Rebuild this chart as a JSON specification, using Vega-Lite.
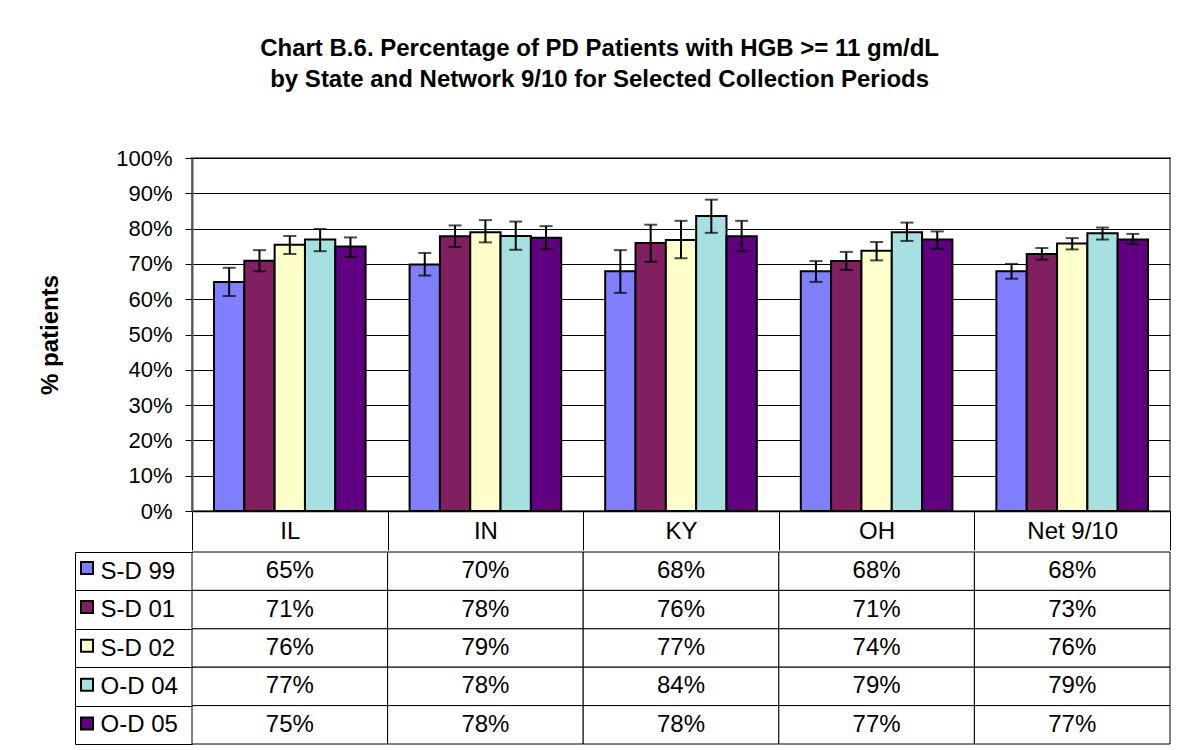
{
  "$schema": "https://vega.github.io/schema/vega-lite/v6.json",
  "padding": {"left": 37, "top": 37, "right": 10, "bottom": 5},
  "background": "white",
  "config": {
    "font": "Liberation Sans",
    "legend": {"orient": "none"}
  },
  "title": {
    "text": ["Chart B.6. Percentage of PD Patients with HGB >= 11 gm/dL", "by State and Network 9/10 for Selected Collection Periods"],
    "font": "Liberation Sans",
    "fontSize": 24,
    "fontWeight": "bold",
    "color": "#000000",
    "lineHeight": 31,
    "anchor": "middle",
    "dx": -5,
    "offset": 54
  },
  "datasets": {
    "rows": [
      {"state": "IL", "series": "S-D 99", "value": 64.9, "lo": 60.9, "hi": 68.9, "label": "65%"},
      {"state": "IL", "series": "S-D 01", "value": 70.9, "lo": 67.9, "hi": 73.9, "label": "71%"},
      {"state": "IL", "series": "S-D 02", "value": 75.4, "lo": 72.8, "hi": 77.9, "label": "76%"},
      {"state": "IL", "series": "O-D 04", "value": 76.9, "lo": 73.6, "hi": 79.9, "label": "77%"},
      {"state": "IL", "series": "O-D 05", "value": 74.9, "lo": 72.0, "hi": 77.5, "label": "75%"},
      {"state": "IN", "series": "S-D 99", "value": 69.8, "lo": 66.7, "hi": 73.1, "label": "70%"},
      {"state": "IN", "series": "S-D 01", "value": 77.8, "lo": 74.8, "hi": 80.9, "label": "78%"},
      {"state": "IN", "series": "S-D 02", "value": 79.0, "lo": 76.1, "hi": 82.4, "label": "79%"},
      {"state": "IN", "series": "O-D 04", "value": 77.9, "lo": 74.0, "hi": 82.0, "label": "78%"},
      {"state": "IN", "series": "O-D 05", "value": 77.4, "lo": 74.2, "hi": 80.7, "label": "78%"},
      {"state": "KY", "series": "S-D 99", "value": 67.9, "lo": 61.8, "hi": 73.9, "label": "68%"},
      {"state": "KY", "series": "S-D 01", "value": 75.9, "lo": 70.6, "hi": 81.1, "label": "76%"},
      {"state": "KY", "series": "S-D 02", "value": 76.8, "lo": 71.6, "hi": 82.2, "label": "77%"},
      {"state": "KY", "series": "O-D 04", "value": 83.6, "lo": 78.8, "hi": 88.2, "label": "84%"},
      {"state": "KY", "series": "O-D 05", "value": 77.8, "lo": 73.6, "hi": 82.2, "label": "78%"},
      {"state": "OH", "series": "S-D 99", "value": 67.9, "lo": 64.9, "hi": 70.8, "label": "68%"},
      {"state": "OH", "series": "S-D 01", "value": 70.8, "lo": 68.3, "hi": 73.4, "label": "71%"},
      {"state": "OH", "series": "S-D 02", "value": 73.7, "lo": 71.0, "hi": 76.2, "label": "74%"},
      {"state": "OH", "series": "O-D 04", "value": 79.0, "lo": 76.5, "hi": 81.7, "label": "79%"},
      {"state": "OH", "series": "O-D 05", "value": 76.9, "lo": 74.3, "hi": 79.2, "label": "77%"},
      {"state": "Net 9/10", "series": "S-D 99", "value": 67.9, "lo": 65.8, "hi": 70.0, "label": "68%"},
      {"state": "Net 9/10", "series": "S-D 01", "value": 72.8, "lo": 71.2, "hi": 74.5, "label": "73%"},
      {"state": "Net 9/10", "series": "S-D 02", "value": 75.8, "lo": 74.1, "hi": 77.3, "label": "76%"},
      {"state": "Net 9/10", "series": "O-D 04", "value": 78.7, "lo": 76.9, "hi": 80.3, "label": "79%"},
      {"state": "Net 9/10", "series": "O-D 05", "value": 76.9, "lo": 75.7, "hi": 78.5, "label": "77%"}
    ]
  },
  "spacing": -13,
  "vconcat": [
    {
      "width": 978,
      "height": 353,
      "data": {"name": "rows"},
      "view": {"stroke": "#808080", "strokeWidth": 2},
      "encoding": {
        "x": {
          "field": "state", "type": "nominal",
          "sort": ["IL", "IN", "KY", "OH", "Net 9/10"],
          "scale": {"paddingInner": 0, "paddingOuter": 0},
          "axis": {
            "title": null, "tickBand": "extent", "tickSize": 39, "tickColor": "#000000", "tickWidth": 1,
            "domainColor": "#000000", "domainWidth": 1.5,
            "labelFontSize": 24, "labelColor": "#000000", "labelPadding": -31, "labelAngle": 0,
            "minExtent": 39, "maxExtent": 39
          }
        },
        "xOffset": {
          "field": "series", "type": "nominal",
          "sort": ["S-D 99", "S-D 01", "S-D 02", "O-D 04", "O-D 05"],
          "scale": {"paddingInner": 0, "paddingOuter": 0.725}
        }
      },
      "layer": [
        {
          "mark": {"type": "bar", "stroke": "#000000", "strokeWidth": 2},
          "encoding": {
            "y": {
              "field": "value", "type": "quantitative",
              "scale": {"domain": [0, 100], "nice": false},
              "axis": {
                "title": "% patients", "titleFontSize": 24, "titleFontWeight": "bold", "titleColor": "#000000", "titlePadding": 53,
                "values": [0, 10, 20, 30, 40, 50, 60, 70, 80, 90, 100],
                "labelExpr": "datum.value + '%'", "labelOverlap": false,
                "labelFontSize": 22, "labelColor": "#000000", "labelPadding": 13,
                "tickSize": 7, "tickColor": "#000000",
                "domainColor": "#555555", "domainWidth": 2,
                "grid": true, "gridColor": "#000000", "gridWidth": 1
              }
            },
            "color": {
              "field": "series", "type": "nominal",
              "sort": ["S-D 99", "S-D 01", "S-D 02", "O-D 04", "O-D 05"],
              "scale": {"range": ["#8080FF", "#802060", "#FFFFCC", "#A6E0E0", "#600080"]},
              "legend": {
                "title": null, "legendX": -112, "legendY": 403, "padding": 0,
                "symbolType": "square", "symbolSize": 144, "symbolStrokeColor": "#000000", "symbolStrokeWidth": 2,
                "rowPadding": 18.9, "labelExpr": "''", "labelFontSize": 1
              }
            }
          }
        },
        {
          "mark": {"type": "rule", "color": "#000000", "strokeWidth": 2},
          "encoding": {
            "y": {
              "field": "lo", "type": "quantitative",
              "axis": {
                "title": "% patients", "titleFontSize": 24, "titleFontWeight": "bold", "titleColor": "#000000", "titlePadding": 53,
                "values": [0, 10, 20, 30, 40, 50, 60, 70, 80, 90, 100],
                "labelExpr": "datum.value + '%'", "labelOverlap": false,
                "labelFontSize": 22, "labelColor": "#000000", "labelPadding": 13,
                "tickSize": 7, "tickColor": "#000000",
                "domainColor": "#555555", "domainWidth": 2,
                "grid": true, "gridColor": "#000000", "gridWidth": 1
              }
            },
            "y2": {"field": "hi"}
          }
        },
        {
          "mark": {"type": "tick", "color": "#000000", "thickness": 2, "size": 13, "orient": "horizontal"},
          "encoding": {
            "y": {
              "field": "lo", "type": "quantitative",
              "axis": {
                "title": "% patients", "titleFontSize": 24, "titleFontWeight": "bold", "titleColor": "#000000", "titlePadding": 53,
                "values": [0, 10, 20, 30, 40, 50, 60, 70, 80, 90, 100],
                "labelExpr": "datum.value + '%'", "labelOverlap": false,
                "labelFontSize": 22, "labelColor": "#000000", "labelPadding": 13,
                "tickSize": 7, "tickColor": "#000000",
                "domainColor": "#555555", "domainWidth": 2,
                "grid": true, "gridColor": "#000000", "gridWidth": 1
              }
            }
          }
        },
        {
          "mark": {"type": "tick", "color": "#000000", "thickness": 2, "size": 13, "orient": "horizontal"},
          "encoding": {
            "y": {
              "field": "hi", "type": "quantitative",
              "axis": {
                "title": "% patients", "titleFontSize": 24, "titleFontWeight": "bold", "titleColor": "#000000", "titlePadding": 53,
                "values": [0, 10, 20, 30, 40, 50, 60, 70, 80, 90, 100],
                "labelExpr": "datum.value + '%'", "labelOverlap": false,
                "labelFontSize": 22, "labelColor": "#000000", "labelPadding": 13,
                "tickSize": 7, "tickColor": "#000000",
                "domainColor": "#555555", "domainWidth": 2,
                "grid": true, "gridColor": "#000000", "gridWidth": 1
              }
            }
          }
        }
      ]
    },
    {
      "width": 978,
      "height": 192,
      "data": {"name": "rows"},
      "view": {"stroke": null},
      "encoding": {
        "x": {
          "field": "state", "type": "nominal",
          "sort": ["IL", "IN", "KY", "OH", "Net 9/10"],
          "scale": {"paddingInner": 0, "paddingOuter": 0},
          "axis": null
        },
        "y": {
          "field": "series", "type": "nominal",
          "sort": ["S-D 99", "S-D 01", "S-D 02", "O-D 04", "O-D 05"],
          "scale": {"paddingInner": 0, "paddingOuter": 0},
          "axis": {
            "title": null, "orient": "left", "offset": 117,
            "tickBand": "extent", "tickSize": -117, "tickColor": "#000000", "tickWidth": 1,
            "domainColor": "#000000", "domainWidth": 1,
            "labelAlign": "left", "labelPadding": 92, "labelFontSize": 24, "labelColor": "#000000"
          }
        }
      },
      "layer": [
        {
          "mark": {"type": "rect", "fill": "#FFFFFF", "stroke": "#000000", "strokeWidth": 1}
        },
        {
          "mark": {"type": "text", "fontSize": 24, "color": "#000000", "font": "Liberation Sans"},
          "encoding": {"text": {"field": "label"}}
        }
      ]
    }
  ]
}
